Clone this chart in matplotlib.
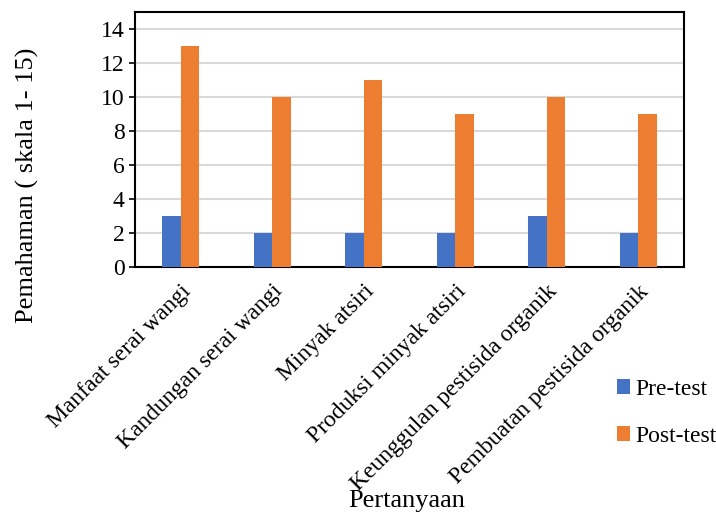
import numpy as np
from matplotlib import pyplot as plt

plt.rcParams['font.family'] = ['Liberation Serif', 'DejaVu Serif']

pertanyaan = ['Manfaat serai wangi', 'Kandungan serai wangi', 'Minyak atsiri',
              'Produksi minyak atsiri', 'Keunggulan pestisida organik',
              'Pembuatan pestisida organik']
pre_test = [3, 2, 2, 2, 3, 2]
post_test = [13, 10, 11, 9, 10, 9]

fig = plt.figure(figsize=(7.16, 5.15), dpi=100)
ax = fig.add_axes([0.1885, 0.4816, 0.7668, 0.495])

x = np.arange(len(pertanyaan))
w = 0.2
ax.bar(x - w / 2, pre_test, w, color='#4472C4', label='Pre-test', zorder=3)
ax.bar(x + w / 2, post_test, w, color='#ED7D31', label='Post-test', zorder=3)

ax.set_xlim(-0.5, len(pertanyaan) - 0.5)
ax.set_ylim(0, 15)
ax.set_yticks(range(0, 15, 2))
ax.yaxis.grid(True, color='#D9D9D9', linewidth=1.5, zorder=0)
ax.tick_params(axis='y', labelsize=17, length=4, width=1.2)
ax.set_xticks(x)
ax.set_xticklabels(pertanyaan, rotation=45, ha='right', rotation_mode='anchor', fontsize=17)
ax.tick_params(axis='x', length=0, pad=10)
for s in ax.spines.values():
    s.set_linewidth(1.5)
    s.set_color('black')

ax.set_ylabel('Pemahaman ( skala 1- 15)', fontsize=19)
ax.yaxis.set_label_coords(-0.175, 0.32)
fig.text(0.568, 0.005, 'Pertanyaan', ha='center', va='bottom', fontsize=19)

fig.legend(loc='center left', bbox_to_anchor=(0.862, 0.198), frameon=False,
           fontsize=17, handlelength=0.55, handleheight=0.6, handletextpad=0.2,
           labelspacing=1.1, borderaxespad=0, borderpad=0)

plt.savefig('out.png')
